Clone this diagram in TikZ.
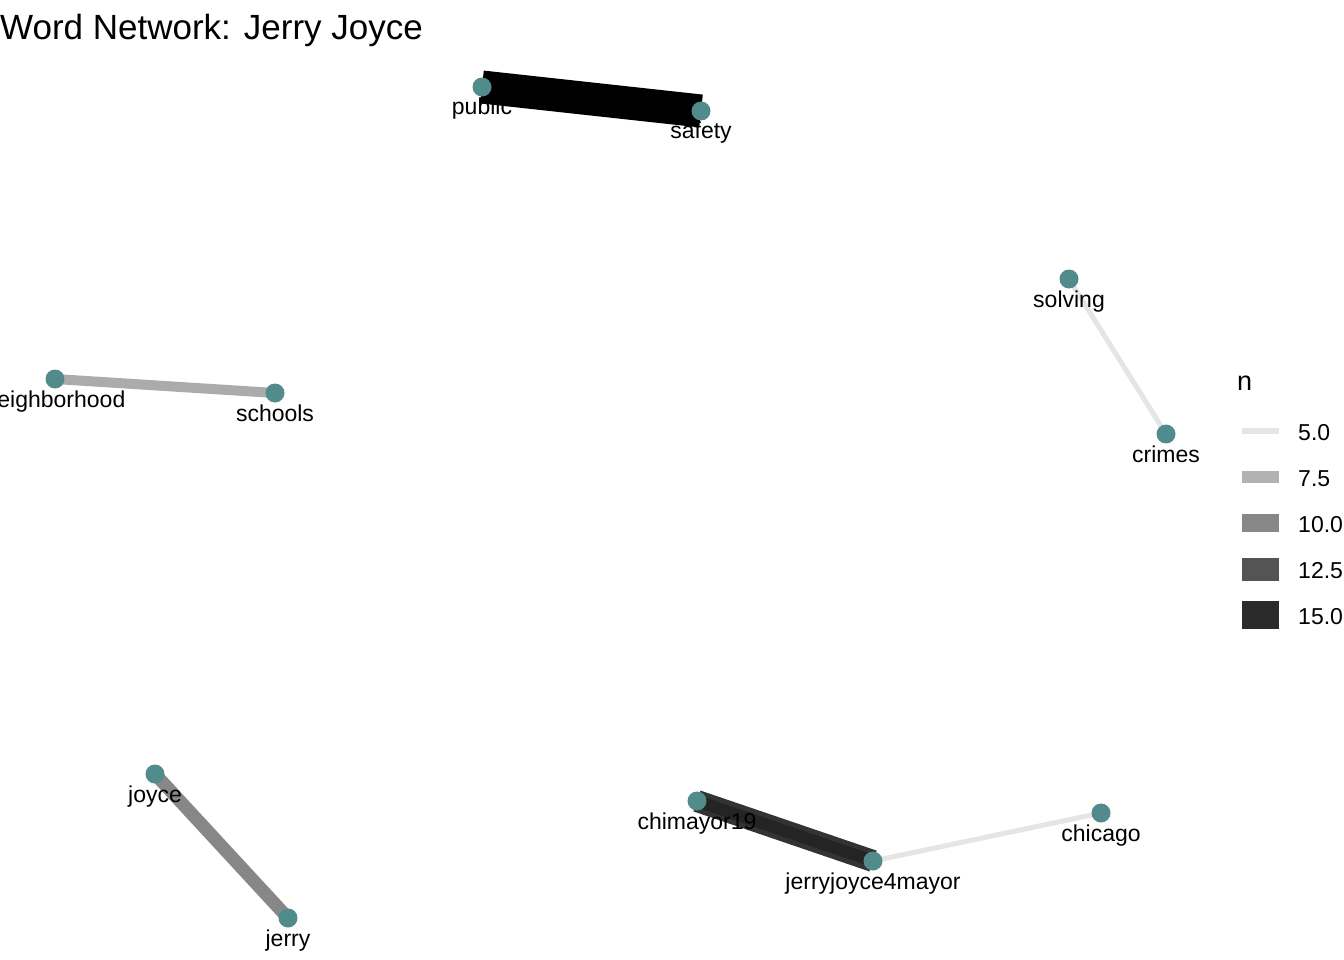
\documentclass[tikz,border=0pt]{standalone}
\usepackage{fontspec}
\setmainfont{Liberation Sans}
\usetikzlibrary{backgrounds}
\definecolor{dotteal}{HTML}{528B8B}

\begin{document}
\begin{tikzpicture}[x=1pt, y=-1pt, inner sep=0pt,
  every node/.style={font=\fontsize{23}{27}\selectfont},
  word/.style={circle, fill=dotteal, minimum size=19pt},
  wlabel/.style={anchor=base},
  keybox/.style={rectangle, minimum width=37pt}]
  \path[use as bounding box, clip] (0,0) rectangle (1344,960);
  \node[anchor=base west, font=\fontsize{35}{40}\selectfont] (title) at (0,40) {Word Network: Jerry Joyce};
  % words
  \foreach \n/\x/\y in {public/482/87, safety/701/111, solving/1069/279, crimes/1166/434,
      neighborhood/55/379, schools/275/393, joyce/155/774, jerry/288/918,
      chimayor19/697/801, jerryjoyce4mayor/873/861, chicago/1101/813} {
    \node[word] (\n) at (\x,\y) {};
    \node[wlabel] (\n-t) at ([yshift=-28pt]\n) {\n};
  }
  % edges
  \begin{scope}[on background layer]
  \draw[line width=33pt, black] (public.center) -- (safety.center);
  \draw[line width=5pt, black!10] (solving.center) -- (crimes.center);
  \draw[line width=10pt, black!33] (neighborhood.center) -- (schools.center);
  \draw[line width=13pt, black!47] (joyce.center) -- (jerry.center);
  \draw[line width=22pt, black!80] (chimayor19.center) -- (jerryjoyce4mayor.center);
  \draw[line width=12pt, black!86] (chimayor19.center) -- (jerryjoyce4mayor.center);
  \draw[line width=5pt, black!10] (jerryjoyce4mayor.center) -- (chicago.center);
  \end{scope}
  % legend
  \node[anchor=base west, font=\fontsize{27}{30}\selectfont] (ltitle) at (1237,390) {n};
  \foreach \v/\g/\h [count=\i] in {5.0/10/6, 7.5/30/12, 10.0/47/18, 12.5/67/23, 15.0/83/28} {
    \node[keybox, minimum height=\h pt, fill=black!\g] (key\i) at (1260.5,385+46*\i) {};
    \node[anchor=base west] (val\i) at (1298,394+46*\i) {\v};
  }
\end{tikzpicture}
\end{document}
